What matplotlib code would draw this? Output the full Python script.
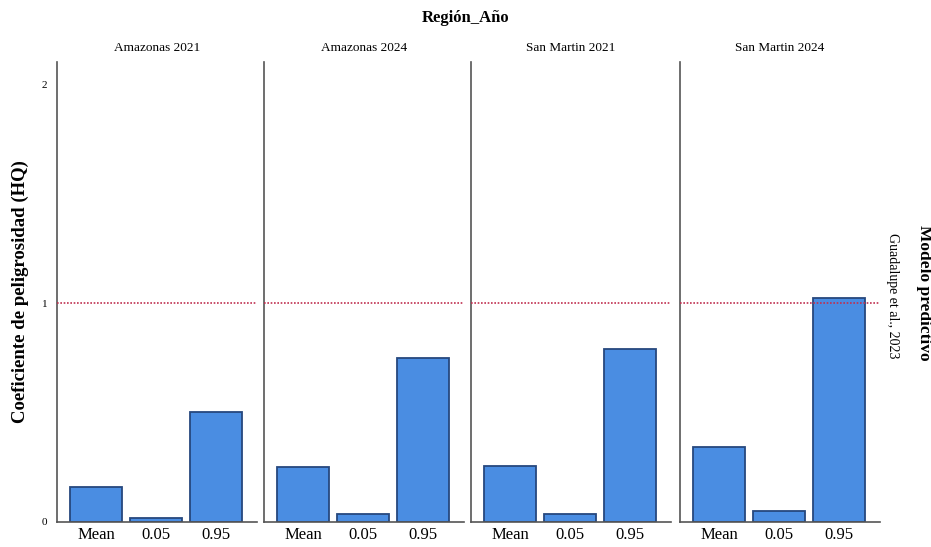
import matplotlib.pyplot as plt

plt.rcParams['font.family'] = ['Liberation Serif', 'DejaVu Serif']

# Hazard quotient per region/year: mean and 5th / 95th percentiles
panels = ['Amazonas 2021', 'Amazonas 2024', 'San Martin 2021', 'San Martin 2024']
stats = ['Mean', '0.05', '0.95']
hq_amazonas_2021 = [0.16, 0.016, 0.50]
hq_amazonas_2024 = [0.25, 0.035, 0.75]
hq_sanmartin_2021 = [0.255, 0.035, 0.79]
hq_sanmartin_2024 = [0.34, 0.047, 1.025]
hq_values = [hq_amazonas_2021, hq_amazonas_2024, hq_sanmartin_2021, hq_sanmartin_2024]
threshold = 1.0

fig = plt.figure(figsize=(9.31, 5.47), dpi=100)

lefts = [57, 264, 471, 680]
for i, (name, vals) in enumerate(zip(panels, hq_values)):
    ax = fig.add_axes([lefts[i] / 931, 25.5 / 547, 200 / 931, 459.5 / 547])
    ax.bar(range(len(stats)), vals, width=0.87, color='#4a8de2',
           edgecolor='#26487e', linewidth=1.3, zorder=2)
    ax.axhline(threshold, color='#c03050', linestyle=(0, (1, 1)), linewidth=1.2, zorder=3)
    ax.set_xlim(-0.65, 2.68)
    ax.set_ylim(0, 2.105)
    ax.set_xticks(range(len(stats)))
    ax.set_xticklabels(stats, fontsize=12)
    ax.set_title(name, fontsize=9.5, pad=8)
    for s in ['top', 'right']:
        ax.spines[s].set_visible(False)
    for s in ['left', 'bottom']:
        ax.spines[s].set_color('#555555')
        ax.spines[s].set_linewidth(1.2)
    ax.tick_params(length=0, pad=4)
    if i == 0:
        ax.set_yticks([0, 1, 2])
        ax.set_yticklabels(['0', '1', '2'], fontsize=8)
        ax.tick_params(axis='y', pad=7)
        ax.set_ylabel('Coeficiente de peligrosidad (HQ)', fontsize=13.5,
                      fontweight='bold', labelpad=9)
    else:
        ax.set_yticks([])

fig.text(0.5, 0.968, 'Región_Año', ha='center', va='center',
         fontsize=12, fontweight='bold')
fig.text(893 / 931, 0.459, 'Guadalupe et al., 2023', rotation=270,
         ha='center', va='center', fontsize=10)
fig.text(924 / 931, 0.464, 'Modelo predictivo', rotation=270,
         ha='center', va='center', fontsize=12.5, fontweight='bold')

fig.savefig('out.png', dpi=100)
